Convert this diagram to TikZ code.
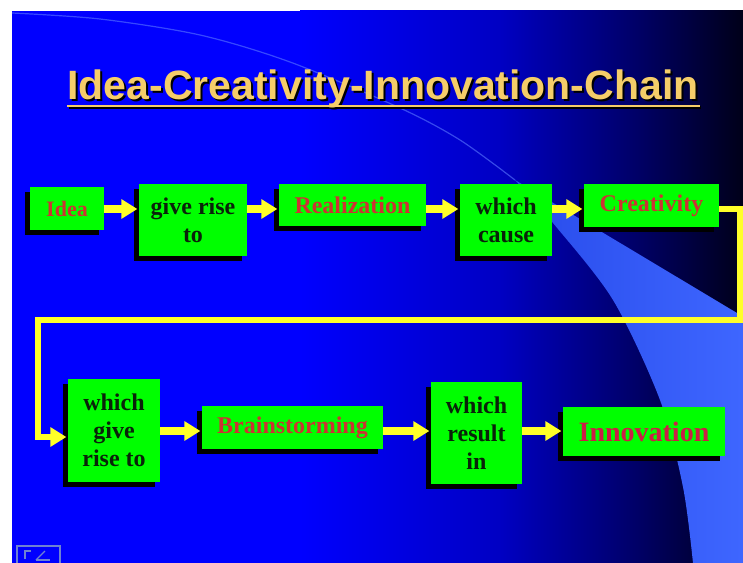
\documentclass[tikz,border=0pt]{standalone}
\usepackage{fontspec}
\setmainfont{Liberation Serif}
\newfontfamily\titlefont{Liberation Sans}
\usetikzlibrary{arrows.meta,shadows}
\definecolor{gfill}{RGB}{0,255,0}
\definecolor{redtxt}{RGB}{204,51,51}
\definecolor{innovtxt}{RGB}{204,30,70}
\definecolor{darktxt}{RGB}{10,35,10}
\definecolor{arrowyel}{RGB}{255,255,40}
\definecolor{titlecol}{RGB}{245,205,105}
\definecolor{bgA}{RGB}{0,0,255}
\definecolor{bgB}{RGB}{0,0,195}
\definecolor{bgC}{RGB}{0,0,100}
\definecolor{bgD}{RGB}{0,0,25}
\definecolor{bandA}{RGB}{40,75,235}
\definecolor{bandB}{RGB}{62,102,255}
\definecolor{arcline}{RGB}{90,120,255}
\definecolor{iconcol}{RGB}{110,130,210}
\begin{document}
\begin{tikzpicture}[x=0.75pt,y=-0.75pt,
  gbox/.style={fill=gfill, inner sep=0pt, align=center,
    font=\bfseries\fontsize{18}{21}\selectfont, text=darktxt,
    drop shadow={shadow xshift=-3.75pt, shadow yshift=-3.75pt, opacity=1, fill=black}},
  redbox/.style={gbox, text=redtxt},
  sz/.style 2 args={minimum width=#1*0.75pt, minimum height=#2*0.75pt},
  arr/.style={draw=arrowyel, line width=5.5pt, -{Triangle[length=12pt,width=14pt]}, shorten >=1pt},
  titlestyle/.style={anchor=base, inner sep=0pt, font=\titlefont\bfseries\fontsize{30.75}{36}\selectfont}
  ]
\useasboundingbox (0,0) rectangle (743,563);
% background
\fill[white] (0,0) rectangle (743,563);
\fill[bgA] (12,11) rectangle (301,563);
\shade[left color=bgA, right color=bgB] (300,11) rectangle (501,563);
\shade[left color=bgB, right color=bgC] (500,11) rectangle (641,563);
\shade[left color=bgC, right color=bgD] (640,11) rectangle (743,563);
% light band
\shade[left color=bandA, right color=bandB] (515,180) -- (737,313) -- (743,313) -- (743,563)
  -- plot[smooth] coordinates {(693,563) (683,487) (660,400) (613,300) (553,223) (515,180)} -- cycle;
% faint arc
\draw[arcline, line width=0.9pt, opacity=0.6] plot[smooth] coordinates {(12,13) (100,19) (200,35) (290,62) (400,108) (460,140) (515,180)};
% title
\node[titlestyle, text=black] at (385,101.5) {Idea-Creativity-Innovation-Chain};
\draw[black, line width=2.2pt] (69,107.5) -- (701,107.5);
\node[titlestyle, text=titlecol] (title) at (383,100) {Idea-Creativity-Innovation-Chain};
\draw[titlecol, line width=2.2pt] (title.west |- 0,106) -- (700,106);
% row 1
\node[redbox, sz={74}{43}, font=\bfseries\fontsize{16.5}{20}\selectfont] (idea) at (67,208.5) {Idea};
\node[gbox, sz={108}{72}] (give) at (193,220) {give rise\\to};
\node[redbox, sz={147}{42}] (real) at (352.5,205) {Realization};
\node[gbox, sz={92}{72}] (cause) at (506,220) {which\\cause};
\node[redbox, sz={135}{43}] (creat) at (651.5,205.5) {Creativity};
% row 2
\node[gbox, sz={92}{103}] (wgrt) at (114,430.5) {which\\give\\rise to};
\node[redbox, sz={181}{43}] (brain) at (292.5,427.5) {Brainstorming};
\node[gbox, sz={91}{102}] (result) at (476.5,433) {which\\result\\in};
\node[gbox, text=innovtxt, sz={162}{49}, font=\bfseries\fontsize{21}{24}\selectfont] (innov) at (644,431.5) {Innovation};
% connectors
\coordinate (r1) at (0,209);
\coordinate (r2) at (0,431);
\coordinate (r3) at (0,437);
\coordinate (c1) at (740,320);
\coordinate (c2) at (38,320);
\draw[arr] (idea.east |- r1) -- (give.west |- r1);
\draw[arr] (give.east |- r1) -- (real.west |- r1);
\draw[arr] (real.east |- r1) -- (cause.west |- r1);
\draw[arr] (cause.east |- r1) -- (creat.west |- r1);
\draw[arr, line width=4.5pt, line join=miter] (creat.east |- r1) -| (c1) -- (c2) |- (wgrt.west |- r3);
\draw[arr] (wgrt.east |- r2) -- (brain.west |- r2);
\draw[arr] (brain.east |- r2) -- (result.west |- r2);
\draw[arr] (result.east |- r2) -- (innov.west |- r2);
% small action button
\draw[iconcol, line width=0.8pt] (17,563) -- (17,546) -- (60,546) -- (60,563);
\draw[iconcol, line width=0.8pt] (25,559) -- (25,551) -- (31,551);
\draw[iconcol, line width=0.8pt] (36,560) -- (45,551);
\draw[iconcol, line width=0.8pt] (36,560) -- (50,560);
\end{tikzpicture}
\end{document}
